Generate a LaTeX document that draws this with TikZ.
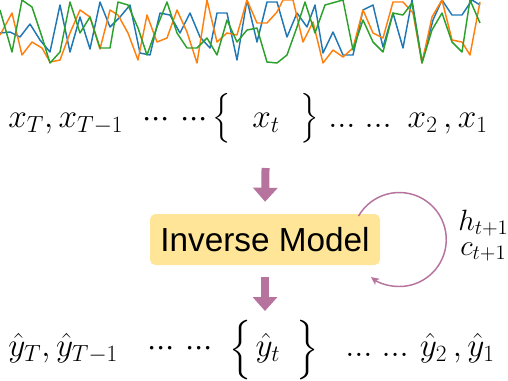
\RequirePackage{fix-cm}
\documentclass[tikz,border=0pt]{standalone}
\usepackage{amsmath}
\usepackage{fontspec}
\setsansfont{Liberation Sans}
\usetikzlibrary{arrows.meta,calc}
\definecolor{tsblue}{HTML}{1F77B4}
\definecolor{tsorange}{HTML}{FF7F0E}
\definecolor{tsgreen}{HTML}{2CA02C}
\definecolor{plum}{HTML}{B5739D}
\definecolor{butter}{HTML}{FFE598}
\newcommand{\midots}{{\cdot}{\cdot}{\cdot}}
\newcommand{\lodots}{{.}{.}{.}}
\tikzset{every node/.style={inner sep=0pt,font=\fontsize{25}{30}\selectfont},
 series/.style={line width=1.1pt,line join=round},
 statelabel/.style={anchor=base west,font=\fontsize{22}{26}\selectfont},
 modelbox/.style={fill=butter,rounded corners=4pt,minimum width=172.5pt,minimum height=38.25pt,
  font=\sffamily\fontsize{25}{30}\selectfont},
 flow/.style={-{Triangle[width=18pt,length=10.5pt]},draw=plum,line width=6pt},
 loopline/.style={-{Stealth[length=6pt,width=5.5pt,inset=1.5pt]},draw=plum,line width=1.1pt}}

\begin{document}
\begin{tikzpicture}[x=0.75pt,y=-0.75pt]

\path[use as bounding box] (0,0) rectangle (508,380);
% input series
\draw[series,tsblue] plot coordinates {(0,33) (10,32) (20,37) (30,24) (40,40) (50,52) (60,5) (70,52) (80,17) (90,49) (100,2) (110,27) (120,17) (130,5) (140,53) (150,55) (160,13) (170,15) (180,33) (190,13) (200,37) (210,48) (217,13) (227,13) (237,60) (247,0) (257,42) (267,2) (277,2) (287,37) (297,13) (307,27) (315,5) (323,53) (333,32) (343,55) (353,55) (363,10) (373,5) (383,47) (393,13) (403,48) (412,0) (422,62) (433,20) (442,0) (452,15) (462,15) (472,0) (480,5)};
\draw[series,tsorange] plot coordinates {(0,35) (12,13) (22,55) (32,42) (42,48) (50,62) (60,60) (70,33) (80,10) (90,17) (100,49) (110,10) (118,15) (128,33) (138,60) (147,15) (157,42) (167,38) (177,10) (187,32) (197,63) (207,0) (217,42) (227,33) (237,35) (247,0) (257,23) (267,23) (277,12) (283,0) (293,0) (303,42) (313,22) (323,63) (333,50) (343,57) (353,48) (363,10) (373,33) (383,38) (393,2) (403,2) (413,13) (422,63) (432,17) (442,0) (452,40) (462,42) (470,55) (480,2)};
\draw[series,tsgreen] plot coordinates {(0,10) (12,52) (22,0) (32,7) (42,37) (50,63) (60,52) (70,2) (80,33) (90,17) (100,48) (110,48) (118,2) (128,5) (138,28) (147,55) (157,27) (167,2) (177,33) (187,48) (197,48) (207,38) (217,55) (227,20) (237,42) (247,30) (257,28) (267,62) (277,63) (287,55) (297,27) (305,2) (315,33) (325,5) (343,0) (353,50) (363,20) (373,42) (383,52) (393,13) (403,15) (412,3) (422,63) (432,30) (442,13) (452,42) (462,52) (470,0) (480,23)};

% input row
\node[anchor=base west] (xT) at (8,127) {$x_T, x_{T-1}$};
\node[anchor=base west] (xdl) at (142,127) {$\midots\ \midots$};
\node[font=\fontsize{21}{25}\selectfont] (xlb) at (222,118) {$\Big\{$};
\node[anchor=base] (xt) at (266,127) {$x_t$};
\node[font=\fontsize{21}{25}\selectfont] (xrb) at (310,118) {$\Big\}$};
\node[anchor=base west] (xdr) at (328,127) {$\lodots\;\lodots$};
\node[anchor=base east] (x21) at (488,127) {$x_2\,, x_1$};

% model with recurrent state
\node[modelbox] (model) at (265,239.5) {Inverse Model};
\coordinate (loopc) at ([xshift=14.25pt]model.east);
\draw[loopline] ([shift={(150:35.25pt)}]loopc) arc[start angle=150,end angle=-127,radius=35.25pt];
\node[statelabel] (hnext) at (458,230) {$h_{t+1}$};
\node[statelabel] (cnext) at (460,255) {$c_{t+1}$};

% output row
\node[anchor=base west] (yT) at (8,356) {$\hat{y}_T, \hat{y}_{T-1}$};
\node[anchor=base west] (ydl) at (147,356) {$\midots\ \midots$};
\node[font=\fontsize{23.5}{28}\selectfont] (ylb) at (241,350) {$\Big\{$};
\node[anchor=base] (yt) at (268,356) {$\hat{y}_t$};
\node[font=\fontsize{23.5}{28}\selectfont] (yrb) at (308,350) {$\Big\}$};
\node[anchor=base west] (ydr) at (345,356) {$\lodots\;\lodots$};
\node[anchor=base east] (y21) at (495,356) {$\hat{y}_2\,, \hat{y}_1$};

\draw[flow,shorten <=30.75pt,shorten >=9pt] (xt.base) -- (model.north);
\draw[flow,shorten <=9pt,shorten >=33.75pt] (model.south) -- (model.south |- yt.base);

\end{tikzpicture}
\end{document}
